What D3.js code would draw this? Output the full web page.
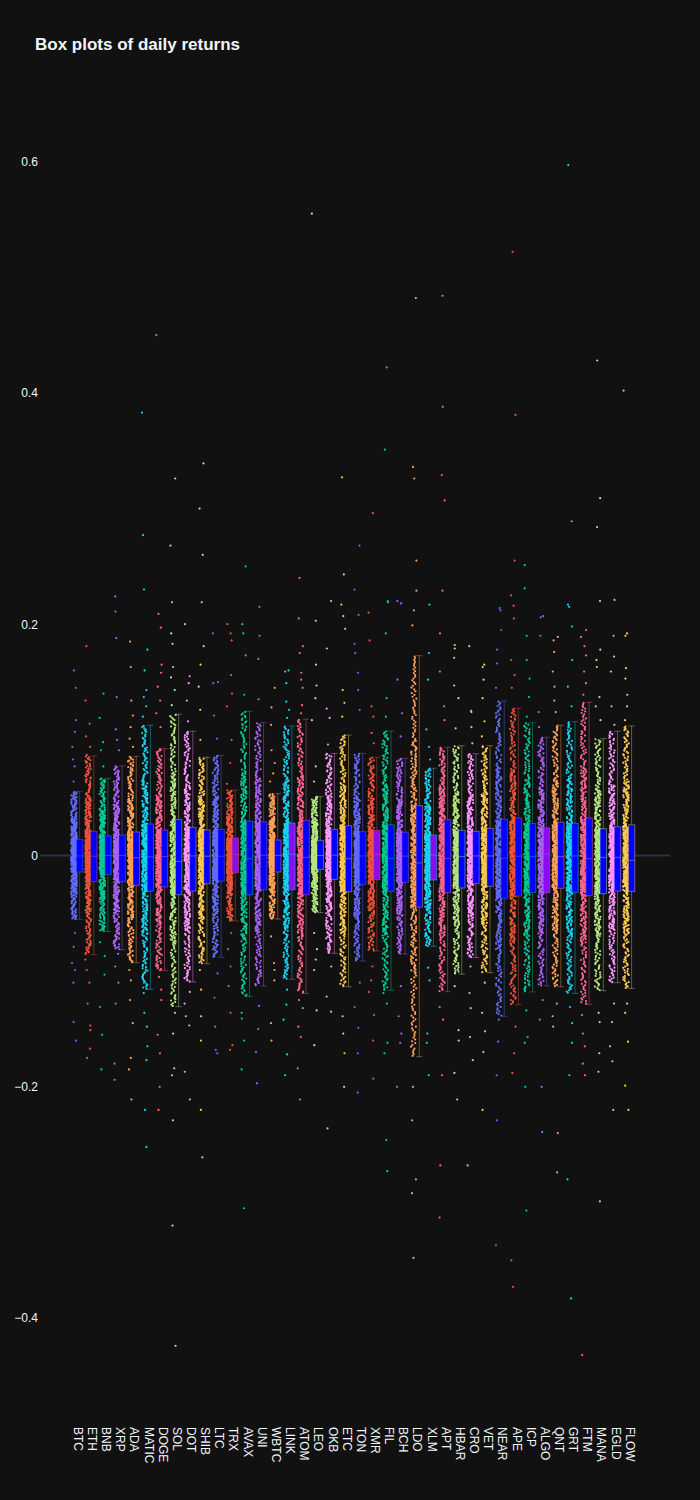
<!DOCTYPE html>
<html><head><meta charset="utf-8">
<script src="https://cdn.jsdelivr.net/npm/d3@7"></script>
<style>
body{margin:0;background:#111111;}
svg{display:block;font-family:"Liberation Sans",Arial,sans-serif;}
</style>
</head><body>
<svg id="chart" width="700" height="1500"></svg>
<script>
// ---------------- data ----------------
const categories = ["BTC","ETH","BNB","XRP","ADA","MATIC","DOGE","SOL","DOT","SHIB","LTC","TRX","AVAX","UNI","WBTC","LINK","ATOM","LEO","OKB","ETC","TON","XMR","FIL","BCH","LDO","XLM","APT","HBAR","CRO","VET","NEAR","APE","ICP","ALGO","QNT","GRT","FTM","MANA","EGLD","FLOW"];

const upperWhisker = [0.0552,0.0860,0.0667,0.0774,0.0857,0.1126,0.0924,0.1221,0.1074,0.0849,0.0866,0.0566,0.1247,0.1148,0.0534,0.1120,0.1178,0.0509,0.0883,0.1042,0.0883,0.0849,0.1077,0.0840,0.1728,0.0754,0.0935,0.0949,0.0880,0.0949,0.1336,0.1273,0.1148,0.1022,0.1126,0.1157,0.1325,0.1010,0.1074,0.1120];
const q3 = [0.0140,0.0209,0.0171,0.0177,0.0203,0.0272,0.0220,0.0310,0.0244,0.0220,0.0226,0.0151,0.0296,0.0290,0.0134,0.0281,0.0304,0.0131,0.0226,0.0258,0.0206,0.0218,0.0266,0.0201,0.0431,0.0177,0.0310,0.0218,0.0209,0.0235,0.0313,0.0324,0.0278,0.0240,0.0288,0.0278,0.0324,0.0232,0.0249,0.0266];
const medians = [-0.0004,-0.0006,0.0000,0.0000,-0.0019,-0.0012,-0.0010,-0.0050,-0.0004,-0.0006,-0.0006,0.0010,-0.0028,0.0002,0.0000,0.0010,-0.0016,0.0000,0.0003,-0.0028,-0.0004,0.0010,-0.0025,-0.0006,-0.0065,0.0004,-0.0025,-0.0010,-0.0004,-0.0004,-0.0025,-0.0006,-0.0010,0.0013,-0.0010,-0.0004,-0.0028,-0.0016,-0.0016,-0.0042];
const q1 = [-0.0143,-0.0226,-0.0163,-0.0226,-0.0258,-0.0307,-0.0272,-0.0339,-0.0307,-0.0244,-0.0220,-0.0149,-0.0339,-0.0296,-0.0143,-0.0296,-0.0339,-0.0120,-0.0206,-0.0313,-0.0249,-0.0210,-0.0310,-0.0232,-0.0445,-0.0212,-0.0319,-0.0281,-0.0244,-0.0266,-0.0370,-0.0350,-0.0319,-0.0322,-0.0284,-0.0319,-0.0347,-0.0330,-0.0307,-0.0310];
const lowerWhisker = [-0.0552,-0.0855,-0.0656,-0.0814,-0.0927,-0.1157,-0.0996,-0.1307,-0.1094,-0.0936,-0.0880,-0.0566,-0.1220,-0.1128,-0.0549,-0.1070,-0.1192,-0.0494,-0.0846,-0.1135,-0.0912,-0.0826,-0.1166,-0.0852,-0.1740,-0.0785,-0.1178,-0.1025,-0.0883,-0.1013,-0.1390,-0.1290,-0.1180,-0.1128,-0.1135,-0.1192,-0.1287,-0.1169,-0.1100,-0.1150];

// points outside the whiskers, per category (approximate readings)
const outliers = [
 [0.16,0.145,0.117,0.107,0.094,0.083,0.077,0.064,-0.067,-0.079,-0.093,-0.099,-0.11,-0.144,-0.16],
 [0.181,0.134,0.114,0.103,0.094,0.087,-0.09,-0.099,-0.11,-0.128,-0.147,-0.151,-0.167,-0.175],
 [0.14,0.119,0.098,0.091,0.077,0.065,-0.075,-0.087,-0.103,-0.131,-0.155,-0.185],
 [0.224,0.211,0.188,0.137,0.109,0.1,0.091,-0.085,-0.096,-0.11,-0.128,-0.18,-0.194],
 [0.185,0.163,0.134,0.121,0.111,0.101,0.094,-0.099,-0.108,-0.125,-0.145,-0.175,-0.185,-0.211],
 [0.383,0.277,0.23,0.178,0.16,0.143,0.137,0.129,0.12,-0.119,-0.136,-0.148,-0.165,-0.177,-0.22,-0.252],
 [0.45,0.209,0.197,0.165,0.158,0.146,0.134,0.123,0.111,-0.105,-0.116,-0.125,-0.155,-0.171,-0.2,-0.22],
 [0.326,0.268,0.219,0.192,0.183,0.163,0.154,0.143,0.13,-0.136,-0.154,-0.184,-0.19,-0.229,-0.32,-0.424],
 [0.2,0.155,0.149,0.134,0.116,-0.118,-0.128,-0.139,-0.147,-0.187,-0.211],
 [0.339,0.3,0.26,0.219,0.181,0.165,0.146,0.126,0.1,-0.099,-0.116,-0.139,-0.16,-0.22,-0.261],
 [0.192,0.15,0.149,0.121,0.101,-0.102,-0.123,-0.148,-0.168,-0.171],
 [0.2,0.192,0.186,0.156,0.14,0.129,0.1,0.08,0.062,-0.067,-0.081,-0.096,-0.113,-0.136,-0.164,-0.168],
 [0.25,0.2,0.192,0.173,0.139,-0.136,-0.141,-0.16,-0.185,-0.305],
 [0.215,0.19,0.17,0.135,-0.13,-0.15,-0.17,-0.197],
 [0.145,0.128,0.113,0.091,0.08,0.071,0.064,-0.07,-0.093,-0.099,-0.108,-0.145,-0.16],
 [0.16,0.159,0.149,0.133,0.126,0.119,-0.116,-0.129,-0.142,-0.172,-0.19],
 [0.24,0.205,0.181,0.175,0.158,0.152,0.145,0.13,0.123,-0.125,-0.132,-0.148,-0.157,-0.184,-0.211],
 [0.555,0.203,0.165,0.147,0.136,0.117,0.077,0.064,-0.067,-0.081,-0.09,-0.099,-0.134,-0.164],
 [0.22,0.179,0.127,0.119,0.096,-0.096,-0.122,-0.135,-0.236],
 [0.327,0.243,0.217,0.207,0.196,0.143,0.132,0.12,-0.139,-0.154,-0.171,-0.2],
 [0.268,0.23,0.208,0.183,0.175,0.158,0.143,0.126,-0.11,-0.131,-0.149,-0.171,-0.205],
 [0.296,0.21,0.186,0.129,0.12,0.106,0.097,-0.096,-0.108,-0.118,-0.138,-0.16,-0.193],
 [0.422,0.351,0.22,0.219,0.192,0.136,0.12,-0.119,-0.128,-0.162,-0.171,-0.246,-0.273],
 [0.22,0.218,0.152,0.123,0.103,-0.113,-0.139,-0.154,-0.162,-0.2],
 [0.482,0.336,0.326,0.255,0.229,0.212,0.199,-0.2,-0.229,-0.28,-0.292,-0.348],
 [0.217,0.175,0.152,0.109,0.094,0.083,-0.097,-0.108,-0.154,-0.162,-0.19],
 [0.484,0.388,0.329,0.307,0.229,0.192,0.159,0.129,0.117,-0.131,-0.142,-0.19,-0.268,-0.313],
 [0.182,0.179,0.171,0.147,0.136,0.11,-0.113,-0.151,-0.16,-0.188,-0.211],
 [0.181,0.125,0.124,0.111,0.097,-0.096,-0.119,-0.132,-0.157,-0.177,-0.268],
 [0.165,0.163,0.152,0.136,0.116,0.103,-0.11,-0.136,-0.152,-0.17,-0.22],
 [0.214,0.212,0.195,0.178,0.166,0.145,-0.142,-0.161,-0.19,-0.229,-0.337],
 [0.522,0.381,0.255,0.225,0.216,0.205,0.169,0.156,0.145,-0.148,-0.171,-0.188,-0.35,-0.373],
 [0.251,0.231,0.19,0.169,0.153,0.137,0.12,-0.134,-0.157,-0.162,-0.2,-0.307],
 [0.207,0.206,0.19,0.124,0.111,-0.125,-0.142,-0.2,-0.239],
 [0.189,0.186,0.176,0.159,0.146,0.134,0.124,-0.128,-0.139,-0.148,-0.24,-0.274],
 [0.597,0.289,0.217,0.215,0.198,0.169,0.146,0.129,-0.131,-0.145,-0.162,-0.19,-0.28,-0.383],
 [0.195,0.189,0.181,0.173,0.159,0.149,0.139,-0.138,-0.154,-0.165,-0.18,-0.19,-0.432],
 [0.428,0.309,0.284,0.22,0.178,0.169,0.163,0.137,0.129,0.117,-0.136,-0.144,-0.171,-0.187,-0.299],
 [0.221,0.19,0.172,0.159,0.129,0.113,-0.128,-0.144,-0.165,-0.178,-0.22],
 [0.402,0.192,0.19,0.162,0.153,0.139,0.129,0.117,-0.128,-0.136,-0.161,-0.199,-0.22]
];

// categories whose box is filled purple instead of blue
const purpleBoxes = ["TRX","LINK","XMR","XLM","ALGO"];

const yTicks = [-0.4,-0.2,0,0.2,0.4,0.6];
const title = "Box plots of daily returns";

// ---------------- style ----------------
const colorway = ["#636efa","#EF553B","#00cc96","#ab63fa","#FFA15A","#19d3f3","#FF6692","#B6E880","#FF97FF","#FECB52"];
const textColor = "#f2f5fa";

// ---------------- drawing ----------------
const svg = d3.select("#chart");
const plotLeft = 40, plotRight = 670;

const x = d3.scalePoint().domain(categories).range([78, 630]);
const y = d3.scaleLinear().domain([-0.4, 0.6]).range([1318.1, 161.6]);
const color = d3.scaleOrdinal().domain(categories).range(colorway);

// title
svg.append("text").attr("x", 35).attr("y", 50)
  .attr("fill", textColor).attr("font-size", 17).attr("font-weight", "bold")
  .text(title);

// zero line
svg.append("line")
  .attr("x1", plotLeft).attr("x2", plotRight)
  .attr("y1", y(0)).attr("y2", y(0))
  .attr("stroke", "#283442").attr("stroke-width", 2);

// y axis labels
const yAxis = d3.axisLeft(y).tickValues(yTicks).tickSize(0).tickPadding(2)
  .tickFormat(d => d === 0 ? "0" : d3.format(".1f")(d));
const gy = svg.append("g").attr("transform", `translate(${plotLeft},0)`).call(yAxis);
gy.select(".domain").remove();
gy.selectAll("text").attr("fill", textColor).attr("font-size", 12)
  .attr("font-family", '"Liberation Sans",Arial,sans-serif');

// x axis labels (rotated)
svg.append("g").selectAll("text").data(categories).join("text")
  .attr("transform", d => `translate(${x(d)},1427) rotate(90)`)
  .attr("dy", "0.35em")
  .attr("text-anchor", "start")
  .attr("fill", textColor).attr("font-size", 12)
  .text(d => d);

// deterministic horizontal jitter (layout only, not data): integer hash -> [0,1)
const jit = (k, i) => {
  let h = (k * 73856093) ^ (i * 19349663) ^ 0x9e3779b9;
  h = Math.imul(h ^ (h >>> 16), 0x45d9f3b);
  h = Math.imul(h ^ (h >>> 16), 0x45d9f3b);
  h = h ^ (h >>> 16);
  return (h >>> 0) / 4294967296;
};

const nInner = 460;
const pointW = 5.6, boxW = 6.4;
categories.forEach((cat, i) => {
  const c = color(cat);
  const cx = x(cat);
  const pxCenter = cx - 4;
  const bx = cx + 1.6;

  // inner cloud: samples spread through the read box statistics (heavier near the box)
  const lw = lowerWhisker[i], uw = upperWhisker[i];
  const qs = d3.scaleLinear()
    .domain([0, 0.1, 0.25, 0.5, 0.75, 0.9, 1])
    .range([lw, q1[i] - 0.44 * (q1[i] - lw), q1[i], medians[i], q3[i], q3[i] + 0.44 * (uw - q3[i]), uw]);
  const vals = d3.range(nInner).map(k => qs((k + 0.5) / nInner)).concat(outliers[i]);
  const g = svg.append("g");
  g.selectAll("circle").data(vals).join("circle")
    .attr("cx", (v, k) => pxCenter + (jit(k, i) - 0.5) * pointW)
    .attr("cy", v => y(v))
    .attr("r", 1.1)
    .attr("fill", c);

  // whiskers
  const wl = g.append("g").attr("stroke", c).attr("stroke-opacity", 0.4).attr("stroke-width", 1);
  wl.append("line").attr("x1", bx).attr("x2", bx).attr("y1", y(q3[i])).attr("y2", y(uw));
  wl.append("line").attr("x1", bx).attr("x2", bx).attr("y1", y(q1[i])).attr("y2", y(lw));
  wl.append("line").attr("x1", bx - boxW / 2).attr("x2", bx + boxW / 2).attr("y1", y(uw)).attr("y2", y(uw));
  wl.append("line").attr("x1", bx - boxW / 2).attr("x2", bx + boxW / 2).attr("y1", y(lw)).attr("y2", y(lw));

  // box
  g.append("rect")
    .attr("x", bx - boxW / 2).attr("width", boxW)
    .attr("y", y(q3[i])).attr("height", y(q1[i]) - y(q3[i]))
    .attr("fill", purpleBoxes.includes(cat) ? "#8a0cf2" : "#0000ff")
    .attr("stroke", c).attr("stroke-opacity", 0.45).attr("stroke-width", 1);
  // median
  g.append("line")
    .attr("x1", bx - boxW / 2).attr("x2", bx + boxW / 2)
    .attr("y1", y(medians[i])).attr("y2", y(medians[i]))
    .attr("stroke", c).attr("stroke-opacity", 0.45).attr("stroke-width", 1);
});
</script>
</body></html>
